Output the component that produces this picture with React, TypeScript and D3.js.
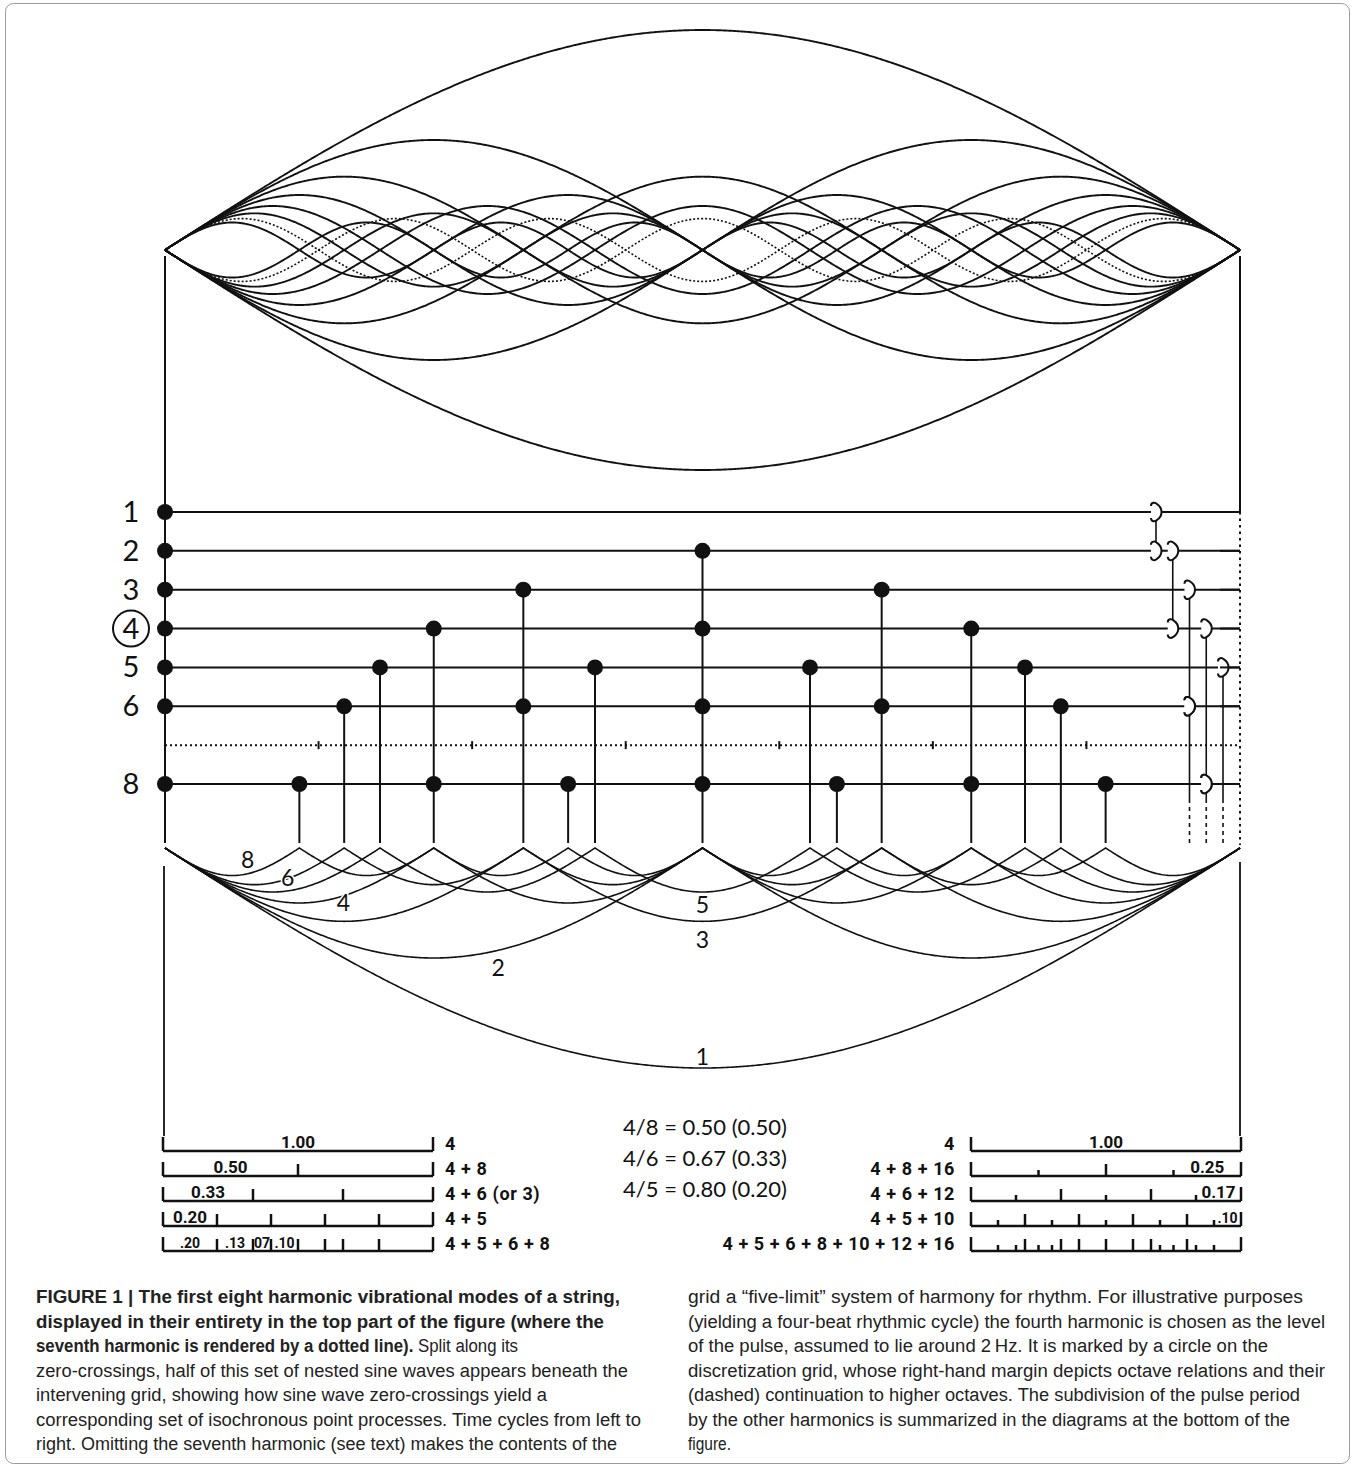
import React from 'react'
import * as d3 from 'd3'

// harmonic modes of the string
const harmonics = [1, 2, 3, 4, 5, 6, 7, 8]
const dottedHarmonic = 7
const pulseHarmonic = 4
const lowerHarmonics = [1, 2, 3, 4, 5, 6, 8]

// octave relations on the right margin of the grid
const octaveFrom = [1, 2, 3, 4, 5, 6, 8]
const octaveTo = [2, 4, 6, 8, 10, 12, 16]
const octaveColumn = [0, 1, 2, 3, 4, 2, 3]

// labels on the lower half-waves
const waveLabels = ['8', '6', '4', '5', '3', '2', '1']

// subdivision diagrams, left group
const leftLabels = ['4', '4 + 8', '4 + 6 (or 3)', '4 + 5', '4 + 5 + 6 + 8']
const leftTicks = [[], [0.5], [1 / 3, 2 / 3], [0.2, 0.4, 0.6, 0.8], [0.2, 1 / 3, 0.4, 0.5, 0.6, 2 / 3, 0.8]]
const leftMarks = [
  [['1.00', 0, 1]],
  [['0.50', 0, 0.5]],
  [['0.33', 0, 1 / 3]],
  [['0.20', 0, 0.2]],
  [['.20', 0, 0.2], ['.13', 0.2, 1 / 3], ['07', 1 / 3, 0.4], ['.10', 0.4, 0.5]],
]

// subdivision diagrams, right group
const rightLabels = ['4', '4 + 8 + 16', '4 + 6 + 12', '4 + 5 + 10', '4 + 5 + 6 + 8 + 10 + 12 + 16']
const rightTall = [[], [0.5], [1 / 3, 2 / 3], [0.2, 0.4, 0.6, 0.8], [0.2, 1 / 3, 0.4, 0.5, 0.6, 2 / 3, 0.8]]
const rightShort = [[], [0.25, 0.75], [1 / 6, 0.5, 5 / 6], [0.1, 0.3, 0.5, 0.7, 0.9], [0.1, 1 / 6, 0.25, 0.3, 0.7, 0.75, 5 / 6, 0.9]]
const rightMarks = [
  [['1.00', 0, 1]],
  [['0.25', 0.75, 1]],
  [['0.17', 5 / 6, 1]],
  [['.10', 0.9, 1]],
  [],
]

const ratioLines = ['4/8 = 0.50 (0.50)', '4/6 = 0.67 (0.33)', '4/5 = 0.80 (0.20)']

// caption, one entry per line: [bold part, regular part]
const captionLeft = [
  ['FIGURE 1 | The first eight harmonic vibrational modes of a string,', ''],
  ['displayed in their entirety in the top part of the figure (where the', ''],
  ['seventh harmonic is rendered by a dotted line).', ' Split along its'],
  ['', 'zero-crossings, half of this set of nested sine waves appears beneath the'],
  ['', 'intervening grid, showing how sine wave zero-crossings yield a'],
  ['', 'corresponding set of isochronous point processes. Time cycles from left to'],
  ['', 'right. Omitting the seventh harmonic (see text) makes the contents of the'],
]
const captionRight = [
  'grid a \u201cfive-limit\u201d system of harmony for rhythm. For illustrative purposes',
  '(yielding a four-beat rhythmic cycle) the fourth harmonic is chosen as the level',
  'of the pulse, assumed to lie around 2\u2009Hz. It is marked by a circle on the',
  'discretization grid, whose right-hand margin depicts octave relations and their',
  '(dashed) continuation to higher octaves. The subdivision of the pulse period',
  'by the other harmonics is summarized in the diagrams at the bottom of the',
  'figure.',
]

// layout
const W = 1356
const H = 1469
const leftEnds = [620, 604, 518, 628, 547, 641, 617]
const rightEnds = [1303, 1325, 1268, 1325, 1300, 1290, 731]
const waveLabelPos = [[0.077, 860], [0.114, 878], [0.166, 903], [0.5, 905], [0.5, 940], [0.31, 968], [0.5, 1057]]

const INK = '#111'
const NUM_FONT = 'Lato, "Open Sans", sans-serif'
const BOLD_FONT = 'Roboto, "Liberation Sans", Arial, sans-serif'
const CAP_FONT = '"Liberation Sans", Arial, sans-serif'

const hookPath = (cx: number, cy: number) =>
  `M${cx - 5},${cy - 6} C${cx - 5},${cy - 10} ${cx - 1},${cy - 10} ${cx + 1},${cy - 8} ` +
  `C${cx + 7},${cy - 4} ${cx + 7},${cy + 4} ${cx + 1},${cy + 8} ` +
  `C${cx - 1},${cy + 10} ${cx - 5},${cy + 10} ${cx - 5},${cy + 6}`

const App = () => {
  const x = d3.scaleLinear().domain([0, 1]).range([165, 1240])
  const yTop = d3.scaleLinear().domain([-1, 1]).range([470, 30])
  const yRow = d3.scalePoint<number>().domain(harmonics).range([512, 784])
  const yLow = d3.scaleLinear().domain([0, 1]).range([848, 1068])
  const colX = d3.scaleLinear().domain([0, 4]).range([1156, 1223])
  const rulerY = d3.scalePoint<number>().domain(d3.range(5)).range([1151, 1251])
  const xl = d3.scaleLinear().domain([0, 1]).range([163, 433])
  const xr = d3.scaleLinear().domain([0, 1]).range([971, 1241])

  const samples = d3.range(0, 1.0001, 1 / 600)
  const wave = (n: number, s: number) =>
    d3.line<number>().x(t => x(t)).y(t => yTop((s * Math.sin(n * Math.PI * t)) / n))(samples) as string
  const halfWave = (n: number) =>
    d3.line<number>().x(t => x(t)).y(t => yLow(Math.abs(Math.sin(n * Math.PI * t)) / n))(samples) as string

  // zero crossings for each harmonic and the topmost row above each stem
  const stems = new Map<string, { t: number; n: number }>()
  harmonics.filter(n => n !== dottedHarmonic && n > 1).forEach(n => {
    d3.range(1, n).forEach(k => {
      const key = (k / n).toFixed(4)
      if (!stems.has(key)) stems.set(key, { t: k / n, n })
    })
  })

  const stemBottom = 843
  const dashStart = 803
  const marginBottom = 845

  const ruler = (
    xs: d3.ScaleLinear<number, number>,
    i: number,
    tall: number[],
    short: number[],
    marks: any[],
    key: string,
  ) => {
    const y = rulerY(i) as number
    return (
      <g key={key} stroke={INK} strokeWidth={2.5}>
        <line x1={xs(0)} x2={xs(1)} y1={y} y2={y} />
        <line x1={xs(0)} x2={xs(0)} y1={y - 14} y2={y} />
        <line x1={xs(1)} x2={xs(1)} y1={y - 14} y2={y} />
        {tall.map((t, j) => <line key={'t' + j} x1={xs(t)} x2={xs(t)} y1={y - 12} y2={y} />)}
        {short.map((t, j) => <line key={'s' + j} x1={xs(t)} x2={xs(t)} y1={y - 6} y2={y} />)}
        {marks.map((m, j) => (
          <text key={'m' + j} x={xs((m[1] + m[2]) / 2)} y={y - 3} textAnchor="middle" stroke="none" fill={INK}
            fontFamily={BOLD_FONT} fontWeight={700} fontSize={m[0].startsWith('.') || m[0] === '07' ? 14 : 17}>
            {m[0]}
          </text>
        ))}
      </g>
    )
  }

  return (
    <>
      <style>{'body{margin:0}'}</style>
      <svg width={W} height={H} style={{ display: 'block', background: '#fff' }}>
        <rect x={5.5} y={3.5} width={1344} height={1460} rx={8} fill="#fff" stroke="#9a9a9a" strokeWidth={1} />

        {/* full standing waves */}
        <g fill="none" stroke={INK}>
          {harmonics.map(n => [1, -1].map(s => (
            <path key={`w${n}${s}`} d={wave(n, s)} strokeWidth={n === dottedHarmonic ? 1.6 : 1.9}
              strokeDasharray={n === dottedHarmonic ? '2 2' : undefined} />
          )))}
        </g>

        {/* frame verticals */}
        <g stroke={INK} strokeWidth={2}>
          <line x1={x(0)} x2={x(0)} y1={256} y2={stemBottom} />
          <line x1={x(1)} x2={x(1)} y1={256} y2={yRow(1)} />
          <line x1={x(1)} x2={x(1)} y1={yRow(1)} y2={marginBottom} strokeDasharray="2.5 4" />
          <line x1={x(0) - 1} x2={x(0) - 1} y1={866} y2={1136} strokeWidth={1.8} />
          <line x1={x(1)} x2={x(1)} y1={862} y2={1136} strokeWidth={1.8} />
        </g>

        {/* discretization grid */}
        <g stroke={INK} strokeWidth={2}>
          {harmonics.map(n => (
            <line key={'r' + n} x1={x(0)} x2={x(1)} y1={yRow(n)} y2={yRow(n)}
              strokeDasharray={n === dottedHarmonic ? '2 3' : undefined} />
          ))}
          {d3.range(1, dottedHarmonic).map(k => (
            <line key={'d7' + k} x1={x(k / dottedHarmonic)} x2={x(k / dottedHarmonic)}
              y1={(yRow(dottedHarmonic) as number) - 4} y2={(yRow(dottedHarmonic) as number) + 4} />
          ))}
          {[...stems.values()].map(s => (
            <line key={'st' + s.t} x1={x(s.t)} x2={x(s.t)} y1={yRow(s.n)} y2={stemBottom} />
          ))}
        </g>
        <g fill={INK}>
          {harmonics.filter(n => n !== dottedHarmonic).map(n =>
            d3.range(0, n).map(k => (
              <circle key={`c${n}_${k}`} cx={x(k / n)} cy={yRow(n)} r={8} />
            )),
          )}
        </g>

        {/* row labels */}
        <g fontFamily={NUM_FONT} fontSize={29} fill={INK} textAnchor="middle">
          {harmonics.filter(n => n !== dottedHarmonic).map(n => (
            <text key={'l' + n} x={131} y={(yRow(n) as number) + 10}>{n}</text>
          ))}
        </g>
        <circle cx={131} cy={yRow(pulseHarmonic)} r={18} fill="none" stroke={INK} strokeWidth={2} />

        {/* octave relations */}
        <g stroke={INK} fill="none">
          {octaveFrom.map((f, i) => {
            const cx = colX(octaveColumn[i])
            const inGrid = octaveTo[i] <= 8
            const y1 = yRow(f) as number
            const y2 = inGrid ? (yRow(octaveTo[i]) as number) : dashStart
            return (
              <g key={'o' + i}>
                <line x1={cx} x2={cx} y1={y1} y2={y2} strokeWidth={1.6} />
                {!inGrid && <line x1={cx} x2={cx} y1={dashStart + 4} y2={marginBottom} strokeWidth={1.6} strokeDasharray="4 4" />}
              </g>
            )
          })}
          {octaveFrom.map((f, i) => (
            <g key={'h' + i} strokeWidth={2}>
              <path d={hookPath(colX(octaveColumn[i]), yRow(f) as number)} fill="#fff" />
              {octaveTo[i] <= 8 && <path d={hookPath(colX(octaveColumn[i]), yRow(octaveTo[i]) as number)} fill="#fff" />}
            </g>
          ))}
          {harmonics.filter(n => n !== dottedHarmonic).map(n => (
            <line key={'rr' + n} x1={x(1) - 20} x2={x(1)} y1={yRow(n)} y2={yRow(n)} strokeWidth={2} />
          ))}
        </g>

        {/* lower half-waves */}
        <g fill="none" stroke={INK} strokeWidth={1.6}>
          {lowerHarmonics.map(n => <path key={'h' + n} d={halfWave(n)} />)}
        </g>
        <g fontFamily={NUM_FONT} fontSize={23} fill={INK} textAnchor="middle">
          {waveLabels.map((lab, i) => (
            <text key={'wl' + i} x={x(waveLabelPos[i][0])} y={waveLabelPos[i][1] + 8}
              stroke="#fff" strokeWidth={3} paintOrder="stroke">{lab}</text>
          ))}
        </g>

        {/* subdivision diagrams */}
        {leftLabels.map((lab, i) => ruler(xl, i, leftTicks[i], [], leftMarks[i], 'L' + i))}
        {rightLabels.map((lab, i) => ruler(xr, i, rightTall[i], rightShort[i], rightMarks[i], 'R' + i))}
        <g fontFamily={BOLD_FONT} fontWeight={700} fontSize={18} fill={INK} letterSpacing={0.6}>
          {leftLabels.map((lab, i) => (
            <text key={'ll' + i} x={445} y={(rulerY(i) as number) - 1}>{lab}</text>
          ))}
          {rightLabels.map((lab, i) => (
            <text key={'rl' + i} x={955} y={(rulerY(i) as number) - 1} textAnchor="end">{lab}</text>
          ))}
        </g>
        <g fontFamily={NUM_FONT} fontSize={22} fill={INK} textAnchor="middle">
          {ratioLines.map((s, i) => (
            <text key={'rt' + i} x={705} y={1135 + i * 31}>{s}</text>
          ))}
        </g>

        {/* caption */}
        <g fontFamily={CAP_FONT} fontSize={18} fill="#222">
          {captionLeft.map((s, i) => (
            <text key={'cl' + i} x={36} y={1303 + i * 24.5}
              textLength={leftEnds[i] - 36} lengthAdjust="spacingAndGlyphs">
              {s[0] && <tspan fontWeight={700}>{s[0]}</tspan>}
              {s[1] && <tspan fontWeight={400}>{s[1]}</tspan>}
            </text>
          ))}
          {captionRight.map((s, i) => (
            <text key={'cr' + i} x={688} y={1303 + i * 24.5}
              textLength={rightEnds[i] - 688} lengthAdjust="spacingAndGlyphs">{s}</text>
          ))}
        </g>
      </svg>
    </>
  )
}

export default App
